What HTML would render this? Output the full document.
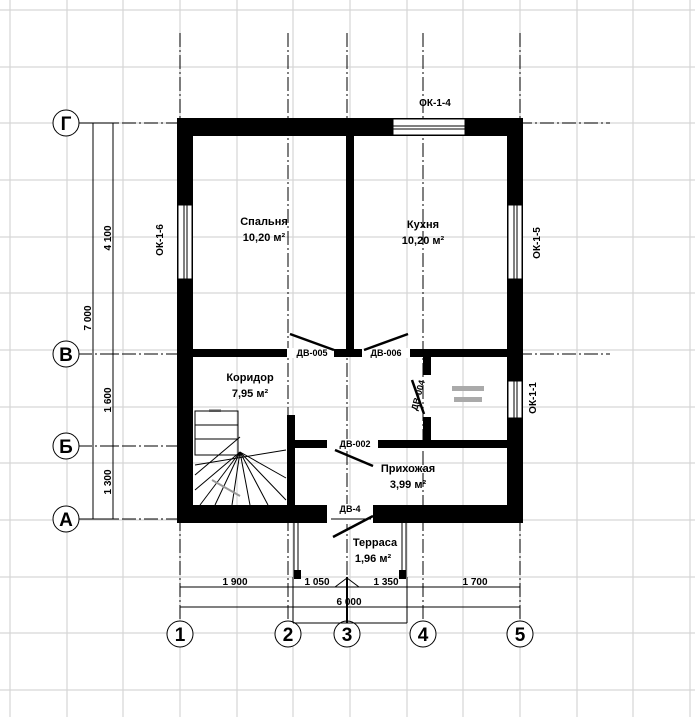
<!DOCTYPE html>
<html><head><meta charset="utf-8"><style>
html,body{margin:0;padding:0;background:#fff}
svg{display:block}
text{font-family:"Liberation Sans",sans-serif;fill:#000;font-weight:bold}
</style></head><body>
<svg width="695" height="717" viewBox="0 0 695 717" xmlns="http://www.w3.org/2000/svg">
<g stroke="#d6d6d6" stroke-width="1.2">
<line x1="10" y1="0" x2="10" y2="717"/><line x1="67" y1="0" x2="67" y2="717"/><line x1="123" y1="0" x2="123" y2="717"/><line x1="180" y1="0" x2="180" y2="717"/><line x1="237" y1="0" x2="237" y2="717"/><line x1="293" y1="0" x2="293" y2="717"/><line x1="350" y1="0" x2="350" y2="717"/><line x1="407" y1="0" x2="407" y2="717"/><line x1="463" y1="0" x2="463" y2="717"/><line x1="520" y1="0" x2="520" y2="717"/><line x1="577" y1="0" x2="577" y2="717"/><line x1="633" y1="0" x2="633" y2="717"/><line x1="690" y1="0" x2="690" y2="717"/>
<line y1="10" x1="0" y2="10" x2="695"/><line y1="67" x1="0" y2="67" x2="695"/><line y1="123" x1="0" y2="123" x2="695"/><line y1="180" x1="0" y2="180" x2="695"/><line y1="237" x1="0" y2="237" x2="695"/><line y1="293" x1="0" y2="293" x2="695"/><line y1="350" x1="0" y2="350" x2="695"/><line y1="407" x1="0" y2="407" x2="695"/><line y1="463" x1="0" y2="463" x2="695"/><line y1="520" x1="0" y2="520" x2="695"/><line y1="577" x1="0" y2="577" x2="695"/><line y1="633" x1="0" y2="633" x2="695"/><line y1="690" x1="0" y2="690" x2="695"/>
</g>
<g stroke="#000" stroke-width="1" stroke-dasharray="14,3,2,3" fill="none">
<line x1="180" y1="33" x2="180" y2="620"/>
<line x1="288" y1="33" x2="288" y2="620"/>
<line x1="347" y1="33" x2="347" y2="620"/>
<line x1="423" y1="33" x2="423" y2="620"/>
<line x1="520" y1="33" x2="520" y2="620"/>
<line x1="78" y1="123" x2="610" y2="123"/>
<line x1="78" y1="354" x2="610" y2="354"/>
<line x1="78" y1="446" x2="180" y2="446"/>
<line x1="78" y1="519" x2="180" y2="519"/>
</g>
<g fill="#fff" stroke="#000" stroke-width="1">
<circle cx="66" cy="123" r="13"/><circle cx="66" cy="354" r="13"/><circle cx="66" cy="446" r="13"/><circle cx="66" cy="519" r="13"/>
<circle cx="180" cy="634" r="13"/><circle cx="288" cy="634" r="13"/><circle cx="347" cy="634" r="13"/><circle cx="423" cy="634" r="13"/><circle cx="520" cy="634" r="13"/>
</g>
<g font-size="19" text-anchor="middle">
<text x="66" y="130">Г</text><text x="66" y="361">В</text><text x="66" y="453">Б</text><text x="66" y="526">А</text>
<text x="180" y="641">1</text><text x="288" y="641">2</text><text x="347" y="641">3</text><text x="423" y="641">4</text><text x="520" y="641">5</text>
</g>
<g stroke="#000" stroke-width="1">
<line x1="93" y1="123" x2="93" y2="519"/><line x1="113" y1="123" x2="113" y2="519"/>
<line x1="88" y1="123" x2="118" y2="123"/><line x1="108" y1="354" x2="118" y2="354"/><line x1="108" y1="446" x2="118" y2="446"/><line x1="88" y1="519" x2="118" y2="519"/>
</g>
<g font-size="10" text-anchor="middle">
<text transform="translate(91,318) rotate(-90)">7 000</text>
<text transform="translate(111,238) rotate(-90)">4 100</text>
<text transform="translate(111,400) rotate(-90)">1 600</text>
<text transform="translate(111,482) rotate(-90)">1 300</text>
<text transform="translate(163,240) rotate(-90)">ОК-1-6</text>
<text transform="translate(540,243) rotate(-90)">ОК-1-5</text>
<text transform="translate(536,398) rotate(-90)">ОК-1-1</text>
<text x="435" y="106">ОК-1-4</text>
</g>
<g fill="#000">
<rect x="177" y="118" width="16" height="405"/>
<rect x="177" y="118" width="346" height="18"/>
<rect x="507" y="118" width="16" height="405"/>
<rect x="177" y="505" width="346" height="18"/>
<rect x="346" y="136" width="8" height="221"/>
<rect x="193" y="349" width="314" height="8"/>
<rect x="423" y="357" width="8" height="18"/>
<rect x="423" y="417" width="8" height="28"/>
<rect x="291" y="440" width="216" height="8"/>
<rect x="287" y="415" width="8" height="95"/>
</g>
<g fill="#fff" stroke="#000" stroke-width="1">
<rect x="178" y="205" width="14" height="74"/>
<rect x="508" y="205" width="14" height="74"/>
<rect x="508" y="381" width="14" height="37"/>
<rect x="393" y="119" width="72" height="16"/>
<rect x="287" y="348" width="47" height="10" stroke="none"/>
<rect x="362" y="348" width="48" height="10" stroke="none"/>
<rect x="327" y="439" width="51" height="10" stroke="none"/>
<rect x="327" y="504" width="46" height="20" stroke="none"/>
<rect x="424" y="376" width="6" height="40" stroke="none"/>
</g>
<g stroke="#000" stroke-width="1" fill="none">
<line x1="184" y1="205" x2="184" y2="279"/><line x1="187" y1="205" x2="187" y2="279"/>
<line x1="514" y1="205" x2="514" y2="279"/><line x1="517" y1="205" x2="517" y2="279"/>
<line x1="514" y1="381" x2="514" y2="418"/><line x1="517" y1="381" x2="517" y2="418"/>
<line x1="393" y1="126" x2="465" y2="126"/><line x1="393" y1="129" x2="465" y2="129"/>
<line x1="331" y1="519" x2="371" y2="519"/>
</g>
<g stroke="#000" stroke-width="2.5">
<line x1="290" y1="334" x2="334" y2="350"/>
<line x1="408" y1="334" x2="364" y2="350"/>
<line x1="335" y1="450" x2="373" y2="466"/>
<line x1="333" y1="537" x2="373" y2="516"/>
<line x1="412" y1="380" x2="424" y2="414"/>
</g>
<g font-size="9" text-anchor="middle">
<text x="312" y="356">ДВ-005</text><text x="386" y="356">ДВ-006</text><text x="355" y="447">ДВ-002</text><text x="350" y="512">ДВ-4</text>
<text transform="translate(421,396) rotate(-75)">ДВ-004</text>
</g>
<g fill="#aaa"><rect x="452" y="386" width="32" height="5"/><rect x="454" y="397" width="28" height="5"/><rect x="209" y="409" width="12" height="3"/></g>
<g stroke="#000" stroke-width="1" fill="none">
<rect x="195" y="411" width="43" height="44"/>
<line x1="195" y1="425" x2="238" y2="425"/><line x1="195" y1="439" x2="238" y2="439"/>
<line x1="195" y1="475" x2="240" y2="437"/>
<line x1="195" y1="465" x2="286" y2="450"/>
<line x1="240" y1="452" x2="200" y2="505"/><line x1="240" y1="452" x2="215" y2="505"/><line x1="240" y1="452" x2="232" y2="505"/><line x1="240" y1="452" x2="250" y2="505"/><line x1="240" y1="452" x2="268" y2="505"/><line x1="240" y1="452" x2="286" y2="500"/><line x1="240" y1="452" x2="286" y2="478"/><line x1="240" y1="452" x2="195" y2="490"/>
</g>
<line x1="212" y1="480" x2="240" y2="496" stroke="#999" stroke-width="2"/>
<g stroke="#000" stroke-width="1" fill="none">
<line x1="294" y1="523" x2="294" y2="577"/><line x1="298" y1="523" x2="298" y2="577"/>
<line x1="402" y1="523" x2="402" y2="577"/><line x1="406" y1="523" x2="406" y2="577"/>
<line x1="293" y1="587" x2="407" y2="587"/><line x1="293" y1="607" x2="407" y2="607"/><line x1="293" y1="623" x2="407" y2="623"/>
<line x1="293" y1="577" x2="293" y2="623"/><line x1="407" y1="577" x2="407" y2="623"/>
<line x1="347" y1="577" x2="347" y2="623" stroke-width="2"/>
<line x1="347" y1="578" x2="335" y2="587"/><line x1="347" y1="578" x2="359" y2="587"/>
<line x1="180" y1="587" x2="520" y2="587"/><line x1="180" y1="607" x2="520" y2="607"/>
</g>
<g fill="#000"><rect x="294" y="570" width="7" height="9"/><rect x="399" y="570" width="7" height="9"/></g>
<g font-size="10" text-anchor="middle">
<text x="235" y="585">1 900</text><text x="317" y="585">1 050</text><text x="386" y="585">1 350</text><text x="475" y="585">1 700</text><text x="349" y="605">6 000</text>
</g>
<g font-size="11" text-anchor="middle">
<text x="264" y="225">Спальня</text><text x="264" y="241">10,20 м²</text>
<text x="423" y="228">Кухня</text><text x="423" y="244">10,20 м²</text>
<text x="250" y="381">Коридор</text><text x="250" y="397">7,95 м²</text>
<text x="408" y="472">Прихожая</text><text x="408" y="488">3,99 м²</text>
<text x="375" y="546">Терраса</text><text x="373" y="562">1,96 м²</text>
</g>
</svg>
</body></html>
